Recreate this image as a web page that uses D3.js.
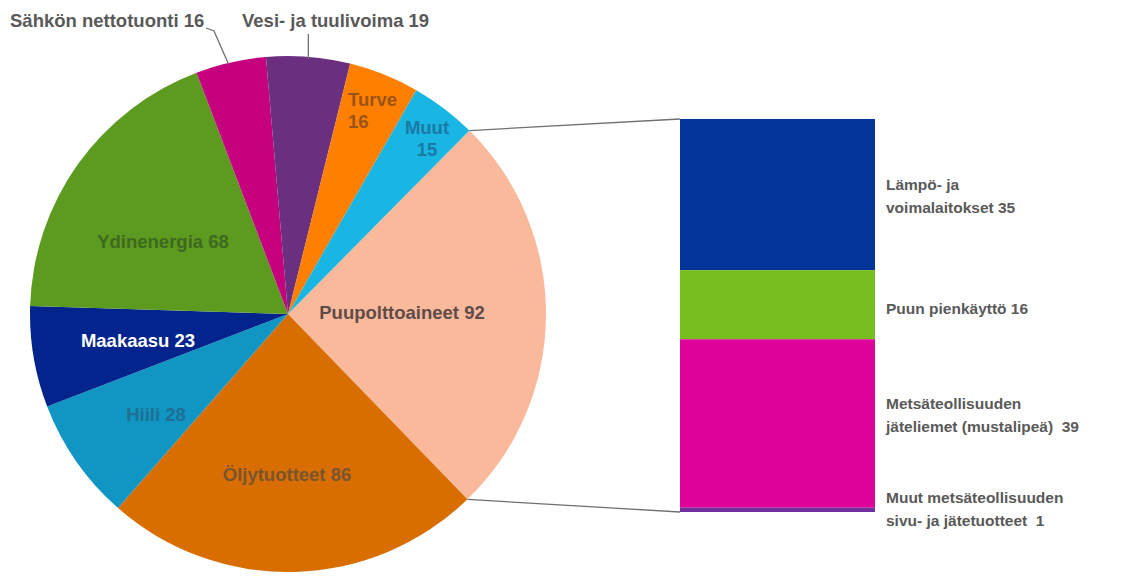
<!DOCTYPE html>
<html><head><meta charset="utf-8">
<script src="https://cdn.jsdelivr.net/npm/d3@7"></script>
<style>body{margin:0;background:#fff}svg{display:block}text{font-family:"Liberation Sans",Arial,sans-serif;font-weight:bold;white-space:pre}</style>
</head><body>
<svg id="c" width="1135" height="577"></svg>
<script>
// ---- data ----
const pieCategories = ["Puupolttoaineet","Öljytuotteet","Hiili","Maakaasu","Ydinenergia","Sähkön nettotuonti","Vesi- ja tuulivoima","Turve","Muut"];
const pieValues = [92, 86, 28, 23, 68, 16, 19, 16, 15];
const barCategories = ["Lämpö- ja voimalaitokset","Puun pienkäyttö","Metsäteollisuuden jäteliemet (mustalipeä)","Muut metsäteollisuuden sivu- ja jätetuotteet"];
const barValues = [35, 16, 39, 1];
const barLabelLines = [["Lämpö- ja","voimalaitokset 35"],["Puun pienkäyttö 16"],["Metsäteollisuuden","jäteliemet (mustalipeä)  39"],["Muut metsäteollisuuden","sivu- ja jätetuotteet  1"]];

// ---- styles / layout ----
const pieColors = ["#fbb99c","#d86e00","#1196c4","#03248c","#5c9b20","#c5017d","#6b2f80","#ff8000","#19b5e3"];
const barColors = ["#02349a","#78be20","#e0039b","#7030a0"];
const cx = 288, cy = 314, R = 258;
const startA = 0.78;
const svg = d3.select("#c");

const pie = d3.pie().sort(null).startAngle(startA).endAngle(startA + 2*Math.PI);
const arcs = pie(pieValues);
const arc = d3.arc().innerRadius(0).outerRadius(R);
const g = svg.append("g").attr("transform", `translate(${cx},${cy})`);
g.selectAll("path").data(arcs).join("path")
  .attr("d", arc).attr("fill", (d,i)=>pieColors[i]);

// in-slice labels (layout positions, absolute)
const inLabel = {
  0:{x:402, y:313, lines:[pieCategories[0]+" "+pieValues[0]], col:"#5e4c48"},
  1:{x:287, y:475, lines:[pieCategories[1]+" "+pieValues[1]], col:"#7a5430"},
  2:{x:156, y:415, lines:[pieCategories[2]+" "+pieValues[2]], col:"#1e6f93"},
  3:{x:138, y:341, lines:[pieCategories[3]+" "+pieValues[3]], col:"#ffffff"},
  4:{x:163, y:242, lines:[pieCategories[4]+" "+pieValues[4]], col:"#3d6a1e"},
  7:{x:348, y:100, lines:[pieCategories[7], String(pieValues[7])], col:"#9a5418", anchor:"start"},
  8:{x:427, y:128, lines:[pieCategories[8], String(pieValues[8])], col:"#1a7aa6"}
};
Object.values(inLabel).forEach(L=>{
  const t = svg.append("text").attr("x", L.x).attr("y", L.y + 6)
    .attr("text-anchor", L.anchor||"middle").attr("fill", L.col).attr("font-size", 18.5);
  L.lines.forEach((ln,j)=>t.append("tspan").attr("x", L.x).attr("dy", j? 21.5:0).text(ln));
});

// outside labels with leader lines
function edge(i, frac){ const d = arcs[i]; const a = d.startAngle + (d.endAngle-d.startAngle)*frac; return [cx+Math.sin(a)*R, cy-Math.cos(a)*R]; }
const pS = edge(5, 0.5);
svg.append("text").attr("x",10).attr("y",27).attr("fill","#595959").attr("font-size",18.5).text(pieCategories[5]+" "+pieValues[5]);
svg.append("path").attr("d", `M206,28 L214,31 L${pS[0]-2},${pS[1]+2}`).attr("fill","none").attr("stroke","#707070").attr("stroke-width",1.3);
const pV = edge(6, 0.5);
svg.append("path").attr("d", `M${pV[0]},34 L${pV[0]},${pV[1]+2}`).attr("fill","none").attr("stroke","#707070").attr("stroke-width",1.3);
svg.append("text").attr("x",242).attr("y",27).attr("fill","#595959").attr("font-size",18.5).text(pieCategories[6]+" "+pieValues[6]);

// bar
const barTotal = d3.sum(barValues);
const y = d3.scaleLinear().domain([0, barTotal]).range([119, 512]);
const bx0 = 680, bx1 = 875;
const cum = d3.cumsum([0, ...barValues]);
svg.selectAll("rect.bar").data(barValues).join("rect").attr("class","bar")
  .attr("x", bx0).attr("width", bx1-bx0)
  .attr("y", (d,i)=>y(cum[i])).attr("height", d=>y(d)-y(0))
  .attr("fill", (d,i)=>barColors[i]);

// connectors
const pTop = [cx+Math.sin(arcs[0].startAngle)*R, cy-Math.cos(arcs[0].startAngle)*R];
const pBot = [cx+Math.sin(arcs[0].endAngle)*R, cy-Math.cos(arcs[0].endAngle)*R];
svg.append("line").attr("x1",pTop[0]).attr("y1",pTop[1]).attr("x2",bx0).attr("y2",y(0)).attr("stroke","#707070").attr("stroke-width",1.3);
svg.append("line").attr("x1",pBot[0]).attr("y1",pBot[1]).attr("x2",bx0).attr("y2",y(barTotal)).attr("stroke","#707070").attr("stroke-width",1.3);

// bar labels
const barLabelY = [196, 309, 415, 509];
barLabelLines.forEach((lines,i)=>{
  const t = svg.append("text").attr("x", 886).attr("y", barLabelY[i] - (lines.length-1)*11.5 + 5).attr("fill","#595959").attr("font-size",15.5);
  lines.forEach((ln,j)=>t.append("tspan").attr("x",886).attr("dy", j?23:0).text(ln));
});
</script>
</body></html>
